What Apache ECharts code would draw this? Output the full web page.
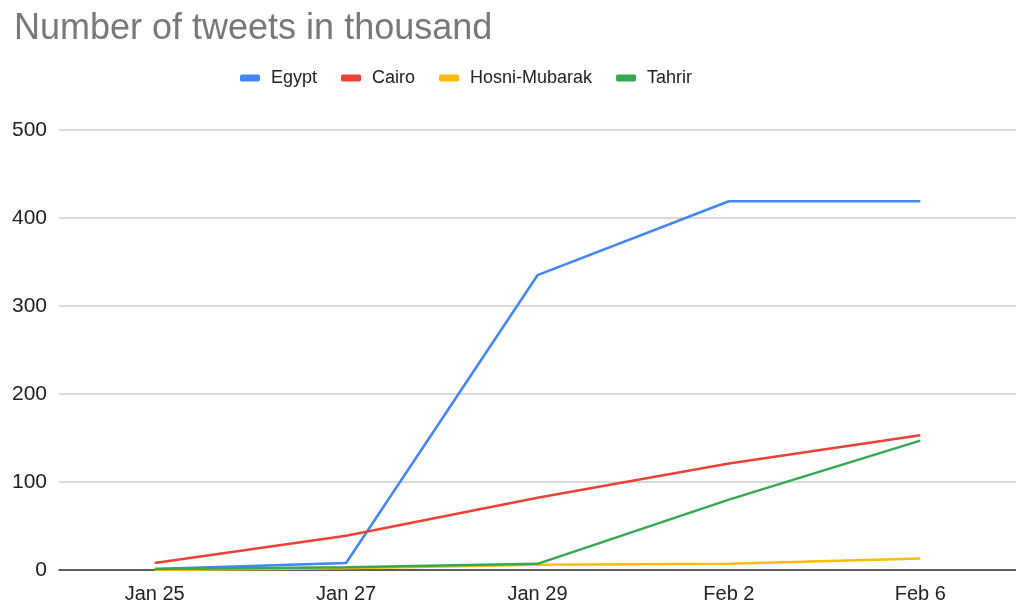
<!DOCTYPE html>
<html>
<head>
<meta charset="utf-8">
<script src="https://cdn.jsdelivr.net/npm/echarts@6/dist/echarts.min.js"></script>
<style>html,body{margin:0;padding:0;background:#fff;overflow:hidden}#c{width:1016px;height:604px}</style>
</head>
<body>
<div id="c"></div>
<script>
const categories = ['Jan 25', 'Jan 27', 'Jan 29', 'Feb 2', 'Feb 6'];
const egypt = [1, 8, 335, 419, 419];
const cairo = [8, 39, 82, 121, 153];
const hosniMubarak = [0, 2, 6, 7, 13];
const tahrir = [1, 3, 7, 80, 147];
const yTicks = [0, 100, 200, 300, 400, 500];

const FONT = '"Liberation Sans", Arial, sans-serif';
const chart = echarts.init(document.getElementById('c'));
const mk = (name, data, color) => ({
  name, type: 'line', data, symbol: 'none', smooth: false,
  lineStyle: { width: 2.5, color }, itemStyle: { color }
});
chart.setOption({
  animation: false,
  title: {
    text: 'Number of tweets in thousand', left: 9, top: 6,
    textStyle: { fontFamily: FONT, fontSize: 36, fontWeight: 'normal', color: '#787878' }
  },
  legend: {
    left: 235, top: 64, itemWidth: 20, itemHeight: 7, itemGap: 24, icon: 'roundRect',
    textStyle: { fontFamily: FONT, fontSize: 18, color: '#222', padding: [0, 0, 0, 6] },
    data: ['Egypt', 'Cairo', 'Hosni-Mubarak', 'Tahrir']
  },
  grid: { left: 59, width: 962, top: 130, bottom: 34, containLabel: false },
  xAxis: {
    type: 'category', data: categories, boundaryGap: true,
    axisLine: { show: true, lineStyle: { color: '#333', width: 1.5 } },
    axisTick: { show: false },
    axisLabel: { fontFamily: FONT, fontSize: 20, color: '#222', margin: 14 }
  },
  yAxis: {
    type: 'value', min: yTicks[0], max: yTicks[yTicks.length - 1], interval: 100,
    axisLine: { show: false }, axisTick: { show: false },
    axisLabel: { fontFamily: FONT, fontSize: 21, color: '#222', margin: 12 },
    splitLine: { lineStyle: { color: '#cccccc', width: 1.5 } }
  },
  series: [
    mk('Egypt', egypt, '#4285F4'),
    mk('Cairo', cairo, '#EA4335'),
    mk('Hosni-Mubarak', hosniMubarak, '#FBBC04'),
    mk('Tahrir', tahrir, '#34A853')
  ]
});
</script>
</body>
</html>
